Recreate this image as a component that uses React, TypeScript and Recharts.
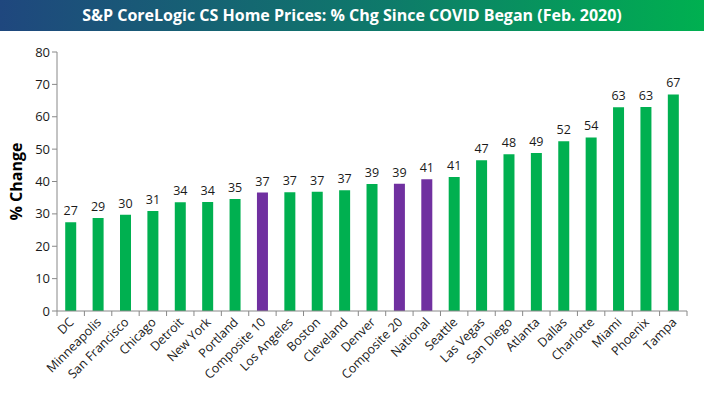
import React from 'react';
import { BarChart, Bar, XAxis, YAxis, Cell, LabelList, Label } from 'recharts';

const cities = [
  'DC', 'Minneapolis', 'San Francisco', 'Chicago', 'Detroit', 'New York', 'Portland',
  'Composite 10', 'Los Angeles', 'Boston', 'Cleveland', 'Denver', 'Composite 20', 'National',
  'Seattle', 'Las Vegas', 'San Diego', 'Atlanta', 'Dallas', 'Charlotte', 'Miami', 'Phoenix', 'Tampa',
];
const pctChange = [
  27.4, 28.7, 29.7, 30.9, 33.6, 33.7, 34.6, 36.6, 36.7, 36.8, 37.3, 39.2, 39.3, 40.7,
  41.4, 46.6, 48.4, 48.8, 52.4, 53.6, 62.9, 63.0, 66.9,
];
const composites = ['Composite 10', 'Composite 20', 'National'];
const yTicks = [0, 10, 20, 30, 40, 50, 60, 70, 80];

const GREEN = '#00B050';
const PURPLE = '#7030A0';
const FONT = '"Open Sans", "DejaVu Sans", sans-serif';

const W = 704;
const H = 396;
const LEFT = 57;
const RIGHT = 17;
const BAND = (W - LEFT - RIGHT) / cities.length;

const data = cities.map((name, i) => ({ name, value: pctChange[i] }));

const CityTick = (props: any) => {
  const { x, y, payload, index } = props;
  const half = BAND / 2;
  return (
    <g>
      <line x1={x - half} y1={y - 8} x2={x - half} y2={y - 3} stroke="#888" />
      {index === cities.length - 1 && (
        <line x1={x + half} y1={y - 8} x2={x + half} y2={y - 3} stroke="#888" />
      )}
      <text
        x={x + 4}
        y={y + 4}
        textAnchor="end"
        transform={`rotate(-45, ${x + 4}, ${y + 4})`}
        fontSize={12.5}
        fontFamily={FONT}
        fill="#1a1a1a"
      >
        {payload.value}
      </text>
    </g>
  );
};

const YTitle = (props: any) => {
  const { viewBox } = props;
  const cy = viewBox.y + viewBox.height / 2;
  return (
    <text
      x={16}
      y={cy}
      transform={`rotate(-90, 16, ${cy})`}
      textAnchor="middle"
      dominantBaseline="central"
      fontSize={16}
      fontWeight={700}
      fontFamily={FONT}
      fill="#000"
    >
      % Change
    </text>
  );
};

export default function App() {
  return (
    <div style={{ position: 'absolute', left: 0, top: 0, width: W, height: H, background: '#fff' }}>
      <div
        style={{
          position: 'absolute',
          left: 0,
          top: 0,
          width: W,
          height: 31,
          background: 'linear-gradient(to right, #1F477E, #0E7A6A 55%, #00B050)',
          color: '#fff',
          fontFamily: FONT,
          fontWeight: 700,
          fontSize: 16,
          lineHeight: '31px',
          textAlign: 'center',
        }}
      >
        S&amp;P CoreLogic CS Home Prices: % Chg Since COVID Began (Feb. 2020)
      </div>
      <BarChart
        width={W}
        height={H}
        data={data}
        margin={{ top: 52, right: RIGHT, bottom: 0, left: 0 }}
        barCategoryGap="30%"
      >
        <XAxis
          dataKey="name"
          interval={0}
          height={85}
          tick={<CityTick />}
          tickLine={false}
          axisLine={{ stroke: '#888' }}
        />
        <YAxis
          width={LEFT}
          domain={[0, 80]}
          ticks={yTicks}
          interval={0}
          tickSize={5}
          tickLine={{ stroke: '#888' }}
          axisLine={{ stroke: '#888' }}
          tick={{ fontSize: 13, fontFamily: FONT, fill: '#1a1a1a' }}
        >
          <Label content={<YTitle />} />
        </YAxis>
        <Bar dataKey="value" isAnimationActive={false}>
          {data.map((d) => (
            <Cell key={d.name} fill={composites.includes(d.name) ? PURPLE : GREEN} />
          ))}
          <LabelList
            dataKey="value"
            position="top"
            offset={7}
            formatter={(v: any) => Math.round(Number(v))}
            style={{ fontSize: 12.5, fontFamily: FONT, fill: '#1a1a1a' }}
          />
        </Bar>
      </BarChart>
    </div>
  );
}
